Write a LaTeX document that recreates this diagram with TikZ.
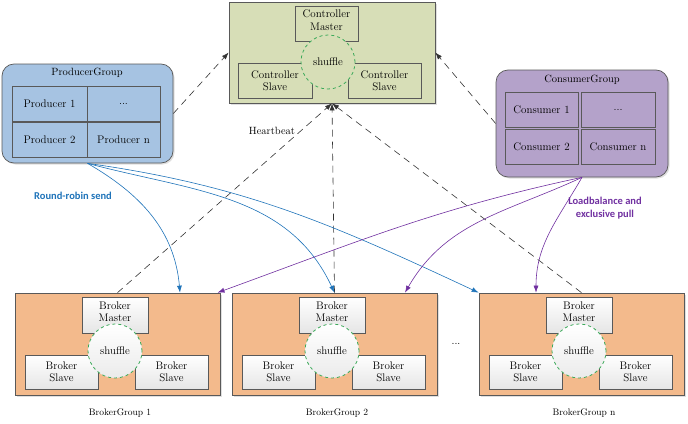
\documentclass[tikz,border=0pt]{standalone}
\usepackage{fontspec}
\newfontfamily\notefont{Carlito}
\usetikzlibrary{positioning}
\usetikzlibrary{shapes,arrows.meta,shadows}

\definecolor{ctrlfill}{RGB}{215,222,183}
\definecolor{prodfill}{RGB}{166,195,226}
\definecolor{consfill}{RGB}{180,162,202}
\definecolor{brokfill}{RGB}{243,186,140}
\definecolor{shufgreen}{RGB}{60,170,90}
\definecolor{sendblue}{RGB}{30,115,185}
\definecolor{pullpurple}{RGB}{112,48,160}

\tikzset{
    grp/.style={rectangle,draw=black!65,line width=0.7pt,
        drop shadow={opacity=0.25,shadow xshift=1.5pt,shadow yshift=-1.5pt}},
    box/.style={rectangle,draw=black!65,line width=0.6pt,inner sep=1pt,align=center,
        font=\fontsize{11}{12.5}\selectfont},
    slavebox/.style={box,top color=white,bottom color=black!10,
        drop shadow={opacity=0.25,shadow xshift=1pt,shadow yshift=-1pt}},
    masterlbl/.style={align=center,yshift=3.5pt,inner sep=0pt,font=\fontsize{11}{12.5}\selectfont},
    shuffle/.style={circle,draw=shufgreen,dashed,line width=0.8pt,minimum size=54pt,
        inner sep=0pt,font=\fontsize{11}{12}\selectfont},
    hbline/.style={draw=black!80,line width=0.6pt,dash pattern=on 7pt off 5pt,
        -{Latex[length=7pt,width=5pt]}},
    send/.style={draw=sendblue,line width=0.6pt,-{Latex[length=7pt,width=5pt]}},
    pull/.style={draw=pullpurple,line width=0.6pt,-{Latex[length=7pt,width=5pt]}},
    note/.style={align=center,font=\notefont\bfseries\fontsize{10.5}{12.5}\selectfont},
}

\begin{document}
\begin{tikzpicture}[x=1pt,y=-1pt,font=\fontsize{10.5}{12}\selectfont]
    \useasboundingbox (0,0) rectangle (688,423);
    %Controller group
    \node[grp,fill=ctrlfill,minimum width=206,minimum height=101] (ctrl) at (332,52.5) {};
    \node[box,fill=ctrlfill,minimum width=63,minimum height=35,
        label={[masterlbl]center:Controller\\Master}] (cmaster) at (326.5,23.5) {};
    \node[box,fill=ctrlfill,minimum width=74,minimum height=35] (cslave1) at (275,80.5) {Controller\\Slave};
    \node[box,fill=ctrlfill,minimum width=73,minimum height=35] (cslave2) at (384.5,80.5) {Controller\\Slave};
    \node[shuffle,fill=ctrlfill] (cshuffle) at (328,62) {shuffle};

    %Producer group
    \node[grp,rounded corners=12pt,fill=prodfill,minimum width=171,minimum height=99] (prod) at (87.5,113.5) {};
    \node (prodtitle) at (87,73) {ProducerGroup};
    \node[box,fill=prodfill,minimum width=75,minimum height=35] (p1) at (49.5,104) {Producer 1};
    \node[box,fill=prodfill,minimum width=73,minimum height=35] (pdots) at (123.5,104) {...};
    \node[box,fill=prodfill,minimum width=75,minimum height=35] (p2) at (49.5,140) {Producer 2};
    \node[box,fill=prodfill,minimum width=73,minimum height=35] (pn) at (123.5,140) {Producer n};

    %Consumer group
    \node[grp,rounded corners=12pt,fill=consfill,minimum width=172,minimum height=107] (cons) at (582,123.5) {};
    \node (constitle) at (582,80) {ConsumerGroup};
    \node[box,fill=consfill,minimum width=73,minimum height=35] (c1) at (541.5,110) {Consumer 1};
    \node[box,fill=consfill,minimum width=74,minimum height=35] (cdots) at (618,110) {...};
    \node[box,fill=consfill,minimum width=73,minimum height=35] (c2) at (541.5,147) {Consumer 2};
    \node[box,fill=consfill,minimum width=74,minimum height=35] (cn) at (618,147) {Consumer n};

    %Broker groups
    \foreach \L/\n/\i in {15/1/1,232/2/2,479/n/3} {
        \node[grp,fill=brokfill,minimum width=205,minimum height=102] (bg\i) at (\L+102.5,344) {};
        \node[slavebox,minimum width=66,minimum height=36,
            label={[masterlbl]center:Broker\\Master}] (bm\i) at (\L+100,315) {};
        \node[slavebox,minimum width=73,minimum height=34] (bsl\i) at (\L+46.5,372) {Broker\\Slave};
        \node[slavebox,minimum width=73,minimum height=34] (bsr\i) at (\L+156.5,372) {Broker\\Slave};
        \node[shuffle,top color=white,bottom color=black!8] (bsh\i) at (\L+100,351) {shuffle};
        \node[font=\fontsize{9.5}{11}\selectfont] (bgl\i) at (\L+105,413) {BrokerGroup \n};
    }
    \node (bgdots) at (456,344) {...};

    %Heartbeat lines
    \foreach \i in {1,2,3}
        \draw[hbline] (bg\i.north) -- (ctrl.south);
    \draw[hbline] (prod.east) -- (ctrl.west);
    \draw[hbline] (cons.west) -- (ctrl.east);
    \node (hblabel) at (272,131) {Heartbeat};

    %Round-robin send
    \draw[send] (prod.south) to[out=-30,in=95] ([xshift=62.5]bg1.north);
    \draw[send] (prod.south) to[out=-15,in=115] (bg2.north);
    \draw[send] (prod.south) to[out=-8,in=155] (bg3.north west);
    \node[note,text=sendblue] (rrlabel) at (73,196) {Round-robin send};

    %Loadbalance pull
    \draw[pull] (cons.south) to[out=192,in=20] ([xshift=100]bg1.north);
    \draw[pull] (cons.south) to[out=205,in=60] ([xshift=70.5]bg2.north);
    \draw[pull] (cons.south) to[out=240,in=90] ([xshift=-45.5]bg3.north);
    \node[note,text=pullpurple] (lblabel) at (605,208) {Loadbalance and\\exclusive pull};
\end{tikzpicture}
\end{document}
